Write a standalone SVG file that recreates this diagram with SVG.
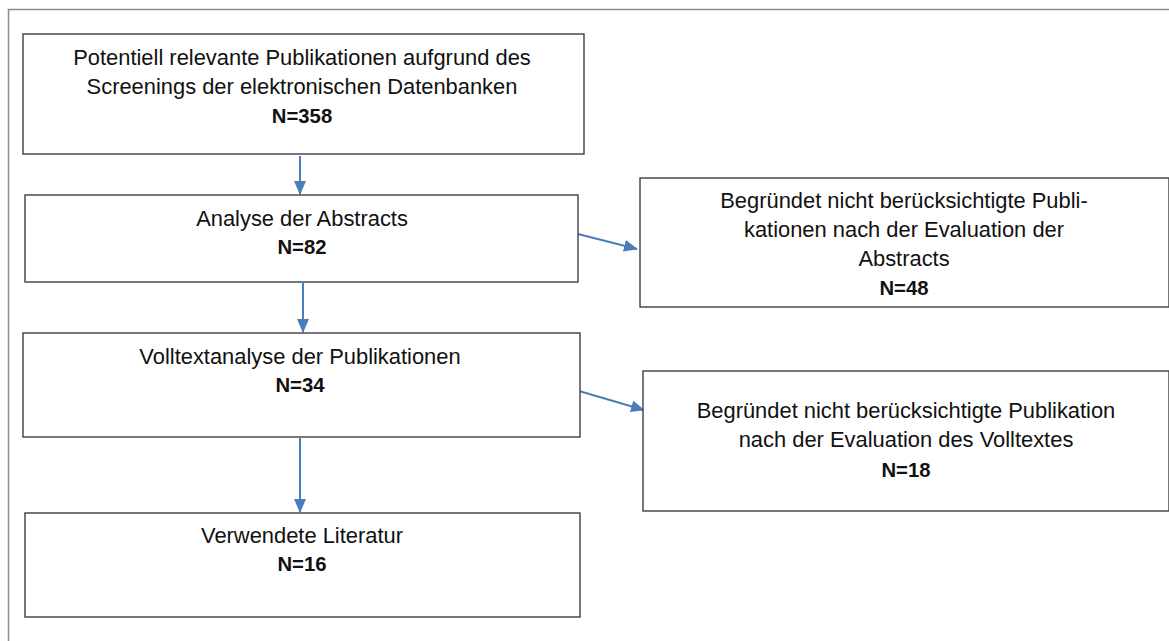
<svg xmlns="http://www.w3.org/2000/svg" width="1169" height="641" viewBox="0 0 1169 641">
<defs>
<style>
.frame{fill:none;stroke:#8c8c8c;stroke-width:1.5}
.box{fill:#fff;stroke:#3f3f3f;stroke-width:1.4}
.t{font-family:"Liberation Sans",Arial,sans-serif;font-size:21.9px;fill:#111;text-anchor:middle}
.b{font-weight:bold;font-size:20.3px}
.c{stroke:#4a7ebb;stroke-width:2;fill:none;marker-end:url(#ah)}
</style>
<marker id="ah" viewBox="0 0 14 12" refX="13" refY="6" markerWidth="7" markerHeight="6" orient="auto" markerUnits="strokeWidth">
<path d="M0,0 L14,6 L0,12 z" fill="#4a7ebb"/>
</marker>
</defs>
<rect width="1169" height="641" fill="#fff"/>
<path class="frame" d="M8.5,641 V9.5 H1169"/>
<g id="connectors">
<line class="c" x1="300" y1="156" x2="300" y2="194"/>
<line class="c" x1="303" y1="283" x2="303" y2="332"/>
<line class="c" x1="300" y1="438" x2="300" y2="512"/>
<line class="c" x1="578" y1="234" x2="637" y2="249"/>
<line class="c" x1="579" y1="391" x2="644" y2="410"/>
</g>
<g id="n1">
<rect class="box" x="23" y="34" width="561" height="120"/>
<text class="t" x="302" y="65">Potentiell relevante Publikationen aufgrund des</text>
<text class="t" x="302" y="94">Screenings der elektronischen Datenbanken</text>
<text class="t b" x="302" y="123">N=358</text>
</g>
<g id="n2">
<rect class="box" x="25" y="195" width="553" height="87"/>
<text class="t" x="302" y="226">Analyse der Abstracts</text>
<text class="t b" x="302" y="254">N=82</text>
</g>
<g id="n3">
<rect class="box" x="23" y="333" width="557" height="104"/>
<text class="t" x="300" y="364">Volltextanalyse der Publikationen</text>
<text class="t b" x="300" y="392">N=34</text>
</g>
<g id="n4">
<rect class="box" x="25" y="513" width="555" height="104"/>
<text class="t" x="302" y="543">Verwendete Literatur</text>
<text class="t b" x="302" y="571">N=16</text>
</g>
<g id="n5">
<rect class="box" x="640" y="178" width="529" height="129"/>
<text class="t" x="904" y="208">Begründet nicht berücksichtigte Publi-</text>
<text class="t" x="904" y="237">kationen nach der Evaluation der</text>
<text class="t" x="904" y="266">Abstracts</text>
<text class="t b" x="904" y="295">N=48</text>
</g>
<g id="n6">
<rect class="box" x="643" y="371" width="526" height="140"/>
<text class="t" x="906" y="418">Begründet nicht berücksichtigte Publikation</text>
<text class="t" x="906" y="447">nach der Evaluation des Volltextes</text>
<text class="t b" x="906" y="477">N=18</text>
</g>
</svg>
